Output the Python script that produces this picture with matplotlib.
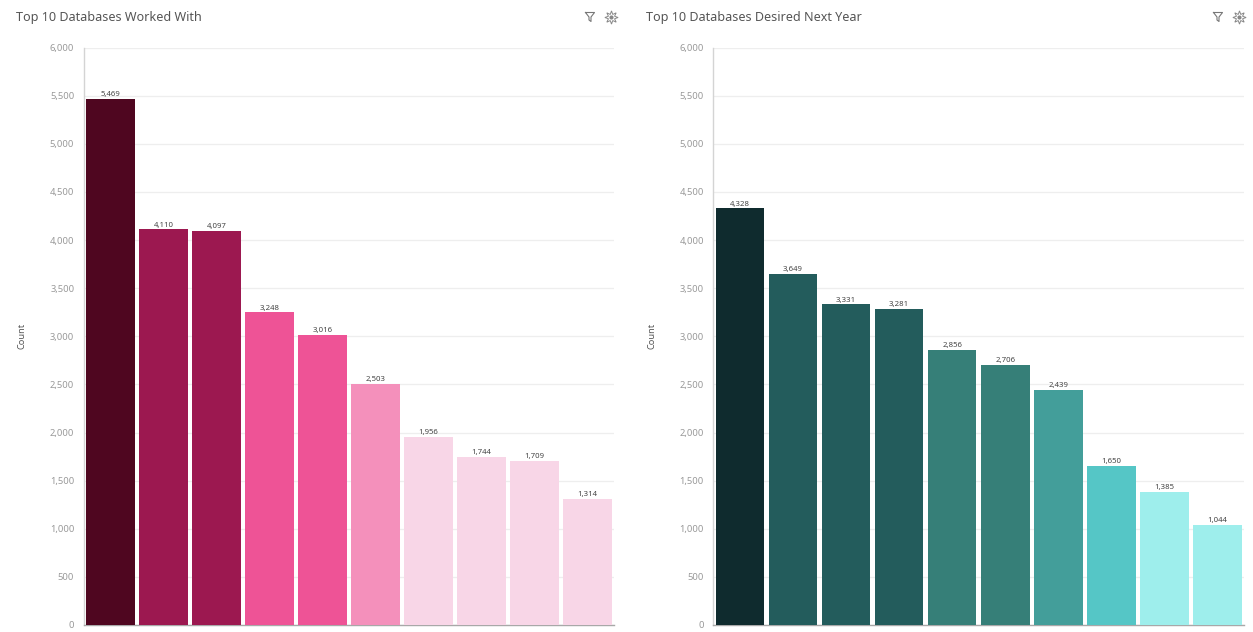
import matplotlib
matplotlib.use("Agg")
import matplotlib.pyplot as plt
from matplotlib.lines import Line2D
from matplotlib.ticker import FuncFormatter, MultipleLocator

plt.rcParams['font.family'] = ['Noto Sans', 'DejaVu Sans']

left_title = "Top 10 Databases Worked With"
right_title = "Top 10 Databases Desired Next Year"
y_label = "Count"
left_values = [5469, 4110, 4097, 3248, 3016, 2503, 1956, 1744, 1709, 1314]
right_values = [4328, 3649, 3331, 3281, 2856, 2706, 2439, 1650, 1385, 1044]
left_colors = ['#4f0620', '#9c1850', '#9c1850', '#ee5396', '#ee5396',
               '#f490bb', '#f8d6e7', '#f8d6e7', '#f8d6e7', '#f8d6e7']
right_colors = ['#0f2b2e', '#235c5c', '#235c5c', '#235c5c', '#367f78',
                '#367f78', '#439e9a', '#55c6c6', '#9eeeec', '#9eeeec']

W, H = 1253, 632
fig = plt.figure(figsize=(W / 100, H / 100), dpi=100, facecolor='white')


def panel(x0, x1, title, title_x, values, colors, label_x, icon_x):
    ax = fig.add_axes([x0 / W, 1 - 625 / H, (x1 - x0) / W, (625 - 47.5) / H])
    positions = list(range(len(values)))
    ax.bar(positions, values, width=0.915, color=colors, linewidth=0, zorder=3)
    for p, v in zip(positions, values):
        ax.text(p, v + 8, f"{v:,}", ha='center', va='bottom', fontsize=5.6,
                color='#444444', zorder=4)
    ax.set_xlim(-0.5, 9.5)
    ax.set_ylim(0, 6000)
    ax.yaxis.set_major_locator(MultipleLocator(500))
    ax.yaxis.set_major_formatter(FuncFormatter(lambda v, _: f"{int(v):,}"))
    ax.grid(axis='y', color='#eeeeee', linewidth=0.9, zorder=0)
    ax.set_axisbelow(True)
    ax.tick_params(axis='y', length=0, pad=7, labelsize=6.8, labelcolor='#999999')
    ax.tick_params(axis='x', length=0, labelbottom=False)
    for s in ('top', 'right'):
        ax.spines[s].set_visible(False)
    ax.spines['left'].set_color('#d4d4d4')
    ax.spines['bottom'].set_color('#a8a8a8')
    ax.spines['left'].set_linewidth(1.0)
    ax.spines['bottom'].set_linewidth(1.0)
    fig.text(title_x / W, 1 - 17 / H, title, ha='left', va='center',
             fontsize=9.05, color='#555555')
    fig.text(label_x / W, 1 - 336 / H, y_label, rotation=90, ha='center',
             va='center', fontsize=6.6, color='#555555')
    # funnel and settings icons of the dashboard toolbar
    fx = icon_x
    xs = [fx - 4.5, fx + 4.5, fx + 1, fx + 1, fx - 1, fx - 1, fx - 4.5]
    ys = [12.5, 12.5, 17, 21.5, 20, 17, 12.5]
    fig.add_artist(Line2D([x / W for x in xs], [1 - y / H for y in ys],
                          color='#777777', lw=0.8))
    gx = icon_x + 20.5
    fig.add_artist(Line2D([gx / W], [1 - 17 / H], marker=(8, 1, 0), ms=9.5,
                          mfc='none', mec='#888888', mew=0.7, ls='none'))
    fig.add_artist(Line2D([gx / W], [1 - 17 / H], marker='o', ms=3,
                          mfc='#888888', mec='none', ls='none'))


panel(84, 614, left_title, 16, left_values, left_colors, 22, 590)
panel(713.5, 1244, right_title, 646, right_values, right_colors, 652, 1218)

fig.savefig("out.png", dpi=100, facecolor='white')
